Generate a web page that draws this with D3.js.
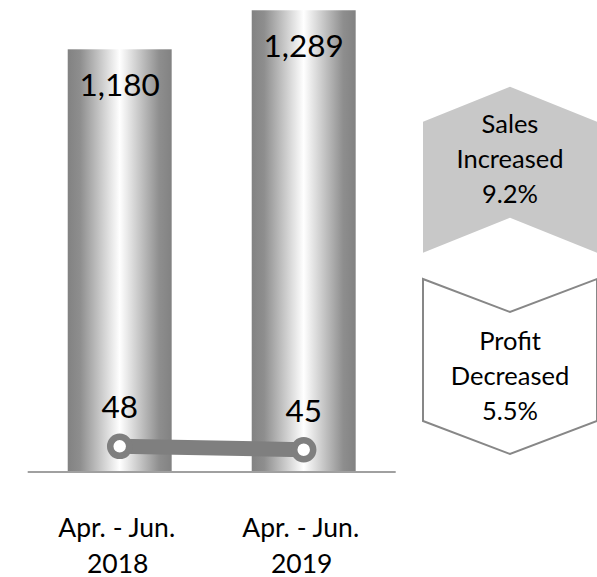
<!DOCTYPE html>
<html><head><meta charset="utf-8">
<script src="https://cdn.jsdelivr.net/npm/d3@7"></script>
<style>body{margin:0;background:#fff}svg{display:block}</style>
</head><body><svg id="c" width="597" height="577"></svg>
<script>
const categoryLine1 = ["Apr. - Jun.", "Apr. - Jun."];
const categoryLine2 = ["2018", "2019"];
const salesValues = [1180, 1289];
const profitValues = [48, 45];
const salesNote = ["Sales", "Increased", "9.2%"];
const profitNote = ["Profit", "Decreased", "5.5%"];

const svg = d3.select("#c");
const FONT = "Lato, 'Open Sans', sans-serif";
const idx = d3.range(salesValues.length);

const x = d3.scaleBand().domain(idx).range([27.7, 395.7]).paddingInner(0.435).paddingOuter(0.2175);
const y = d3.scaleLinear().domain([0, 1400]).range([472, -29.5]);
const y2 = d3.scaleLinear().domain([25, 475]).range([472, -29.5]);
const fmt = d3.format(",");

const defs = svg.append("defs");
const g = defs.append("linearGradient").attr("id", "metal").attr("x1", "0%").attr("x2", "100%").attr("y1", "0%").attr("y2", "0%");
[[0, "#828282"], [0.12, "#8e8e8e"], [0.5, "#ffffff"], [0.88, "#8e8e8e"], [1, "#828282"]].forEach(([o, c]) =>
  g.append("stop").attr("offset", o).attr("stop-color", c));

// bars
svg.selectAll("rect.bar").data(idx).join("rect").attr("class", "bar")
  .attr("x", i => x(i)).attr("width", x.bandwidth())
  .attr("y", i => y(salesValues[i])).attr("height", i => y(0) - y(salesValues[i]))
  .attr("fill", "url(#metal)");

// baseline
svg.append("line").attr("x1", x.range()[0]).attr("x2", x.range()[1])
  .attr("y1", y(0)).attr("y2", y(0)).attr("stroke", "#a0a0a0").attr("stroke-width", 2);

// sales labels
svg.selectAll("text.sv").data(idx).join("text").attr("class", "sv")
  .attr("x", i => x(i) + x.bandwidth() / 2).attr("y", i => y(salesValues[i]) + 47)
  .attr("text-anchor", "middle").attr("font-family", FONT).attr("font-size", 31.5).attr("fill", "#000")
  .text(i => fmt(salesValues[i]));

// profit line
const line = d3.line().x(i => x(i) + x.bandwidth() / 2).y(i => y2(profitValues[i]));
svg.append("path").attr("d", line(idx)).attr("fill", "none").attr("stroke", "#7f7f7f").attr("stroke-width", 15);
svg.selectAll("circle.pm").data(idx).join("circle").attr("class", "pm")
  .attr("cx", i => x(i) + x.bandwidth() / 2).attr("cy", i => y2(profitValues[i]))
  .attr("r", 9.5).attr("fill", "#fff").attr("stroke", "#7f7f7f").attr("stroke-width", 6.5);
svg.selectAll("text.pv").data(idx).join("text").attr("class", "pv")
  .attr("x", i => x(i) + x.bandwidth() / 2).attr("y", i => y2(profitValues[i]) - 28)
  .attr("text-anchor", "middle").attr("font-family", FONT).attr("font-size", 31.5).attr("fill", "#000")
  .text(i => fmt(profitValues[i]));

// category labels
const cat = svg.selectAll("text.cat").data(idx).join("text").attr("class", "cat")
  .attr("text-anchor", "middle").attr("font-family", FONT).attr("font-size", 26.5).attr("fill", "#000");
cat.append("tspan").attr("x", i => x(i) + x.bandwidth() / 2 - 3).attr("y", 537).text(i => categoryLine1[i]);
cat.append("tspan").attr("x", i => x(i) + x.bandwidth() / 2 - 2).attr("y", 572.5).text(i => categoryLine2[i]);

// annotation chevrons
const cx = 510, hw = 87, tip = 35;
const salesShape = [[cx - hw, 121.7], [cx, 121.7 - tip], [cx + hw, 121.7], [cx + hw, 252.7], [cx, 252.7 - tip], [cx - hw, 252.7]];
const profitShape = [[cx - hw, 279], [cx, 279 + 33], [cx + hw, 279], [cx + hw, 421], [cx, 421 + 33], [cx - hw, 421]];
const poly = d3.line().curve(d3.curveLinearClosed);
svg.append("path").attr("d", poly(salesShape)).attr("fill", "#c8c8c8").attr("stroke", "none");
svg.append("path").attr("d", poly(profitShape)).attr("fill", "#fff").attr("stroke", "#878787").attr("stroke-width", 2);

svg.selectAll("text.sn").data(salesNote).join("text").attr("class", "sn")
  .attr("x", cx).attr("y", (d, i) => 133 + i * 35.2)
  .attr("text-anchor", "middle").attr("font-family", FONT).attr("font-size", 25.5).attr("fill", "#000").text(d => d);
svg.selectAll("text.pn").data(profitNote).join("text").attr("class", "pn")
  .attr("x", cx).attr("y", (d, i) => 349.5 + i * 35.3)
  .attr("text-anchor", "middle").attr("font-family", FONT).attr("font-size", 25.5).attr("fill", "#000").text(d => d);
</script>
</body></html>
